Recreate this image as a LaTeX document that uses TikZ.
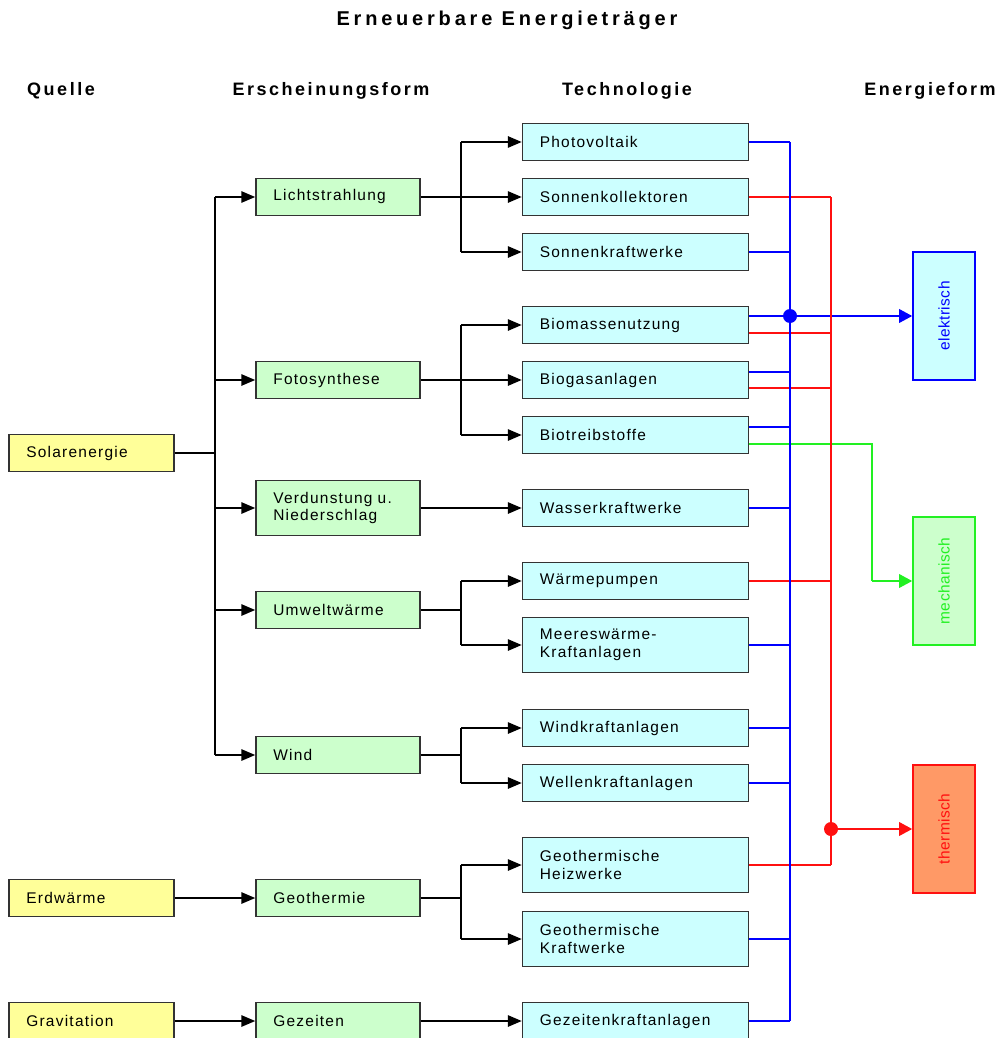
\documentclass[tikz,border=0pt]{standalone}
\usepackage{fontspec}
\usepackage{graphicx}
\setmainfont{Liberation Sans}
\newfontfamily\bxf[LetterSpace=8]{Liberation Sans}
\newfontfamily\enf[LetterSpace=3]{Liberation Sans}
\newfontfamily\hdf[LetterSpace=14]{Liberation Sans}
\newfontfamily\ttf[LetterSpace=19]{Liberation Sans}
\usetikzlibrary{arrows.meta,calc}
\definecolor{cyel}{HTML}{FFFF99}
\definecolor{cgrn}{HTML}{CCFFCC}
\definecolor{ccyn}{HTML}{CCFFFF}
\definecolor{corg}{HTML}{FF9966}
\definecolor{lblu}{HTML}{0000FF}
\definecolor{lred}{HTML}{FF1010}
\definecolor{lgrn}{HTML}{22F022}
\tikzset{
  txt/.style={font=\bxf\fontsize{11.6pt}{13.1pt}\selectfont},
  box/.style={txt, draw=black!80, line width=1.1pt, inner xsep=13pt, inner ysep=0pt, align=left},
  src/.style={box, fill=cyel, text width=97.75pt, minimum height=27.75pt},
  frm/.style={box, fill=cgrn, text width=97pt, minimum height=27.75pt},
  tec/.style={box, fill=ccyn, text width=143.5pt, minimum height=27.75pt},
  tall/.style={minimum height=41.5pt},
  efbox/.style={font=\enf\fontsize{11.6pt}{13.1pt}\selectfont, line width=1pt, minimum width=46.5pt, minimum height=96pt, inner sep=0pt},
  hdr/.style={font=\hdf\bfseries\fontsize{13.5pt}{15pt}\selectfont, anchor=base},
  ttl/.style={font=\ttf\bfseries\fontsize{15pt}{17pt}\selectfont, anchor=base},
  arr/.style={-{Triangle[length=10.5pt,width=8.5pt]}, line width=1.5pt},
  fan/.style={line width=1.5pt},
  stub/.style={line width=1pt},
  bl/.style={lblu, line width=1pt},
  rl/.style={lred, line width=1pt},
  earr/.style={line width=2.2pt, -{Triangle[length=10pt,width=10pt]}},
}
\begin{document}
\begin{tikzpicture}[x=0.75pt,y=-0.75pt]
\useasboundingbox (0,0) rectangle (1002,1038);
\clip (0,0) rectangle (1002,1038);

% titles
\node[ttl] (title) at (507,26) {Erneuerbare Energieträger};
\node[hdr] (hq) at (61,96) {Quelle};
\node[hdr] (he) at (331,96) {Erscheinungsform};
\node[hdr] (ht) at (627,96) {Technologie};
\node[hdr] (hf) at (930,96) {Energieform};

% sources
\node[src] (sol) at (91.5,453) {Solarenergie};
\node[src] (erd) at (91.5,898) {Erdwärme};
\node[src] (grav) at (91.5,1021) {Gravitation};

% forms
\node[frm] (licht) at (338,197) {Lichtstrahlung};
\node[frm] (foto) at (338,380) {Fotosynthese};
\node[frm,tall] (verd) at (338,508) {Verdunstung u.\\Niederschlag};
\node[frm] (umw) at (338,610) {Umweltwärme};
\node[frm] (wind) at (338,755) {Wind};
\node[frm] (geo) at (338,898) {Geothermie};
\node[frm] (gez) at (338,1021) {Gezeiten};

% technologies
\node[tec] (pv) at (635.5,142) {Photovoltaik};
\node[tec] (sk) at (635.5,197) {Sonnenkollektoren};
\node[tec] (skw) at (635.5,252) {Sonnenkraftwerke};
\node[tec] (bm) at (635.5,325) {Biomassenutzung};
\node[tec] (bg) at (635.5,380) {Biogasanlagen};
\node[tec] (bt) at (635.5,435) {Biotreibstoffe};
\node[tec] (wkw) at (635.5,508) {Wasserkraftwerke};
\node[tec] (wp) at (635.5,581) {Wärmepumpen};
\node[tec,tall] (mw) at (635.5,645) {Meereswärme-\\Kraftanlagen};
\node[tec] (wka) at (635.5,728) {Windkraftanlagen};
\node[tec] (wlk) at (635.5,783) {Wellenkraftanlagen};
\node[tec,tall] (gh) at (635.5,865) {Geothermische\\Heizwerke};
\node[tec,tall] (gk) at (635.5,939) {Geothermische\\Kraftwerke};
\node[tec] (gza) at (635.5,1021) {Gezeitenkraftanlagen};

% energy forms
\node[efbox, draw=lblu, fill=ccyn, text=lblu] (el) at (944,316) {\rotatebox{90}{elektrisch}};
\node[efbox, draw=lgrn, fill=cgrn, text=lgrn] (me) at (944,581) {\rotatebox{90}{mechanisch}};
\node[efbox, draw=lred, fill=corg, text=lred] (th) at (944,829) {\rotatebox{90}{thermisch}};

% bus coordinates
\coordinate (sx) at (215,0);
\coordinate (tx) at (461,0);
\coordinate (bx) at (790,0);
\coordinate (rx) at (831,0);
\coordinate (gx) at (872,0);

% source -> forms
\draw[stub] (sol.east) -- (sol.east -| sx);
\draw[fan] (licht.west -| sx) -- (wind.west -| sx);
\foreach \n in {licht,foto,verd,umw,wind}{
  \draw[arr] (\n.west -| sx) -- (\n.west);
}
\draw[arr] (erd.east) -- (geo.west);
\draw[arr] (grav.east) -- (gez.west);

% forms -> technologies
\draw[fan] (licht.east) -- (licht.east -| tx);
\draw[fan] (pv.west -| tx) -- (skw.west -| tx);
\foreach \n in {pv,sk,skw}{ \draw[arr] (\n.west -| tx) -- (\n.west); }
\draw[fan] (foto.east) -- (foto.east -| tx);
\draw[fan] (bm.west -| tx) -- (bt.west -| tx);
\foreach \n in {bm,bg,bt}{ \draw[arr] (\n.west -| tx) -- (\n.west); }
\draw[arr] (verd.east) -- (verd.east -| wkw.west);
\draw[stub] (umw.east) -- (umw.east -| tx);
\draw[fan] (wp.west -| tx) -- (mw.west -| tx);
\foreach \n in {wp,mw}{ \draw[arr] (\n.west -| tx) -- (\n.west); }
\draw[stub] (wind.east) -- (wind.east -| tx);
\draw[fan] (wka.west -| tx) -- (wlk.west -| tx);
\foreach \n in {wka,wlk}{ \draw[arr] (\n.west -| tx) -- (\n.west); }
\draw[stub] (geo.east) -- (geo.east -| tx);
\draw[fan] (gh.west -| tx) -- (gk.west -| tx);
\foreach \n in {gh,gk}{ \draw[arr] (\n.west -| tx) -- (\n.west); }
\draw[arr] (gez.east) -- (gza.west);

% green line to mechanisch
\draw[lgrn, line width=1.3pt] ($(bt.east)+(0,9)$) -- ($(bt.east -| gx)+(0,9)$) -- (me.west -| gx);
\draw[lgrn, earr] (me.west -| gx) -- (me.west);

% red horizontals
\draw[rl] (sk.east) -- (sk.east -| rx);
\draw[rl] ($(bm.east)+(0,8)$) -- ($(bm.east -| rx)+(0,8)$);
\draw[rl] ($(bg.east)+(0,8)$) -- ($(bg.east -| rx)+(0,8)$);
\draw[rl] (wp.east) -- (wp.east -| rx);
\draw[rl] (gh.east) -- (gh.east -| rx);

% blue horizontals and bus
\draw[bl] (pv.east) -- (pv.east -| bx);
\draw[bl] (skw.east) -- (skw.east -| bx);
\draw[bl] ($(bm.east)+(0,-9)$) -- ($(bm.east -| bx)+(0,-9)$);
\draw[bl] ($(bg.east)+(0,-8)$) -- ($(bg.east -| bx)+(0,-8)$);
\draw[bl] ($(bt.east)+(0,-8)$) -- ($(bt.east -| bx)+(0,-8)$);
\foreach \n in {wkw,mw,wka,wlk,gk,gza}{ \draw[bl] (\n.east) -- (\n.east -| bx); }
\draw[bl] (pv.east -| bx) -- (gza.east -| bx);
\coordinate (bdot) at (el.west -| bx);
\draw[lblu, earr] (bdot) -- (el.west);

% red bus
\draw[rl] (sk.east -| rx) -- (gh.east -| rx);
\coordinate (rdot) at (th.west -| rx);
\draw[lred, earr] (rdot) -- (th.west);

% junction dots
\fill[lblu] (bdot) circle[radius=7];
\fill[lred] (rdot) circle[radius=7];
\end{tikzpicture}
\end{document}
